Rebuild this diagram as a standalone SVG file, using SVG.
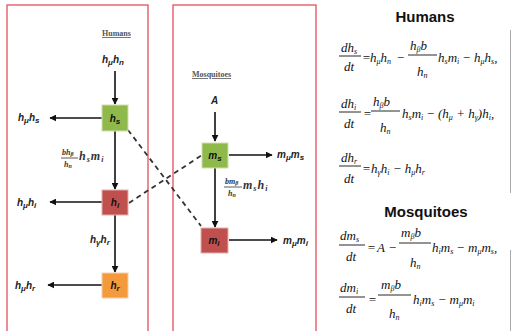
<svg xmlns="http://www.w3.org/2000/svg" width="512" height="331" viewBox="0 0 512 331">
<defs>
<marker id="ah" viewBox="0 0 10 10" refX="9" refY="5" markerWidth="7" markerHeight="7" markerUnits="userSpaceOnUse" orient="auto">
<path d="M0,0 L10,5 L0,10 z" fill="#111"/>
</marker>
<style>
.frame{fill:none;stroke:#e2505c;stroke-width:1.3}
.arr{stroke:#111;stroke-width:1.6;fill:none;marker-end:url(#ah)}
.dash{stroke:#333;stroke-width:1.8;stroke-dasharray:5,4;fill:none}
.lab{font-family:"Liberation Sans",Arial,sans-serif;font-style:italic;font-weight:bold;font-size:10px;fill:#222}
.nl{font-family:"Liberation Sans",Arial,sans-serif;font-style:italic;font-weight:bold;font-size:10px;fill:#111;text-anchor:middle}
.fr{font-family:"Liberation Serif","Times New Roman",serif;font-style:italic;font-weight:bold;fill:#333}
.ttl{font-family:"Liberation Serif","Times New Roman",serif;font-weight:bold;font-size:8px;fill:#555;text-decoration:underline}
.m{font-family:"Liberation Serif","Times New Roman",serif;font-style:italic;font-size:13px;fill:#111}
.s{font-size:8px}
.big{font-family:"Liberation Sans",Arial,sans-serif;font-weight:bold;font-size:15px;fill:#111;text-anchor:middle}
.fl{stroke:#111;stroke-width:0.9}
</style>
</defs>
<rect width="512" height="331" fill="#fff"/>
<rect class="frame" x="7" y="5" width="141" height="340"/>
<rect class="frame" x="173" y="5" width="143" height="340"/>

<g id="connectors">
<line class="arr" x1="115" y1="71" x2="115" y2="104"/>
<line class="arr" x1="102" y1="118" x2="50" y2="118"/>
<line class="arr" x1="115" y1="131" x2="115" y2="189"/>
<line class="arr" x1="102" y1="202" x2="50" y2="202"/>
<line class="arr" x1="115" y1="215" x2="115" y2="272"/>
<line class="arr" x1="102" y1="285" x2="48" y2="285"/>
<line class="arr" x1="215" y1="112" x2="215" y2="141"/>
<line class="arr" x1="229" y1="155" x2="272" y2="155"/>
<line class="arr" x1="215" y1="168" x2="215" y2="227"/>
<line class="arr" x1="229" y1="240" x2="277" y2="240"/>
<line class="dash" x1="128" y1="130" x2="201" y2="226"/>
<line class="dash" x1="129" y1="203" x2="202" y2="155"/>
</g>

<g id="title-humans"><text class="ttl" x="102" y="36">Humans</text></g>
<g id="title-mosq"><text class="ttl" x="192" y="77">Mosquitoes</text></g>

<g id="in-h"><text class="lab" x="102" y="63">h<tspan class="s" dy="2">μ</tspan><tspan dy="-2">h</tspan><tspan class="s" dy="2">n</tspan></text></g>
<g id="in-m"><text class="lab" x="211" y="104">A</text></g>

<g id="hs">
<rect x="102" y="105" width="26" height="26" fill="#8fb94b" stroke="#cfe0b0" stroke-width="1"/>
<text class="nl" x="115" y="122">h<tspan class="s" dy="2">s</tspan></text>
</g>
<g id="hi">
<rect x="102" y="190" width="26" height="25" fill="#c0504d" stroke="#e2b0ae" stroke-width="1"/>
<text class="nl" x="115" y="206">h<tspan class="s" dy="2">i</tspan></text>
</g>
<g id="hr">
<rect x="102" y="273" width="26" height="25" fill="#f39a3c" stroke="#f6d0a8" stroke-width="1"/>
<text class="nl" x="115" y="289">h<tspan class="s" dy="2">r</tspan></text>
</g>
<g id="ms">
<rect x="202" y="143" width="26" height="25" fill="#8fb94b" stroke="#cfe0b0" stroke-width="1"/>
<text class="nl" x="215" y="159">m<tspan class="s" dy="2">s</tspan></text>
</g>
<g id="mi">
<rect x="201" y="228" width="27" height="25" fill="#c0504d" stroke="#e2b0ae" stroke-width="1"/>
<text class="nl" x="214" y="244">m<tspan class="s" dy="2">i</tspan></text>
</g>

<g id="out-labels">
<text class="lab" x="18" y="121">h<tspan class="s" dy="2">μ</tspan><tspan dy="-2">h</tspan><tspan class="s" dy="2">s</tspan></text>
<text class="lab" x="17" y="206">h<tspan class="s" dy="2">μ</tspan><tspan dy="-2">h</tspan><tspan class="s" dy="2">i</tspan></text>
<text class="lab" x="15" y="289">h<tspan class="s" dy="2">μ</tspan><tspan dy="-2">h</tspan><tspan class="s" dy="2">r</tspan></text>
<text class="lab" x="90" y="243">h<tspan class="s" dy="2">γ</tspan><tspan dy="-2">h</tspan><tspan class="s" dy="2">r</tspan></text>
<text class="lab" x="277" y="158">m<tspan class="s" dy="2">μ</tspan><tspan dy="-2">m</tspan><tspan class="s" dy="2">s</tspan></text>
<text class="lab" x="283" y="244">m<tspan class="s" dy="2">μ</tspan><tspan dy="-2">m</tspan><tspan class="s" dy="2">i</tspan></text>
</g>

<g id="rate-hs-hi">
<text class="fr" x="62" y="155" font-size="8">bh<tspan font-size="6" dy="1">β</tspan></text>
<line x1="61" y1="158" x2="78" y2="158" stroke="#333" stroke-width="0.8"/>
<text class="fr" x="64" y="167" font-size="8">h<tspan font-size="6" dy="1">n</tspan></text>
<text class="fr" x="79" y="160" font-size="12" letter-spacing="1">h<tspan font-size="8" dy="2">s</tspan><tspan dy="-2">m</tspan><tspan font-size="8" dy="2">i</tspan></text>
</g>
<g id="rate-ms-mi">
<text class="fr" x="225" y="184" font-size="8">bm<tspan font-size="6" dy="1">β</tspan></text>
<line x1="224" y1="187" x2="242" y2="187" stroke="#333" stroke-width="0.8"/>
<text class="fr" x="228" y="196" font-size="8">h<tspan font-size="6" dy="1">n</tspan></text>
<text class="fr" x="243" y="189" font-size="12" letter-spacing="1">m<tspan font-size="8" dy="2">s</tspan><tspan dy="-2">h</tspan><tspan font-size="8" dy="2">i</tspan></text>
</g>

<g id="equations">
<text class="big" x="425" y="22">Humans</text>
<!-- eq1 -->
<text class="m" x="341" y="52">dh<tspan class="s" dy="2">s</tspan></text>
<line class="fl" x1="339" y1="56" x2="361" y2="56"/>
<text class="m" x="344" y="71">dt</text>
<text class="m" x="362" y="62">=</text>
<text class="m" x="370" y="62">h<tspan class="s" dy="2">μ</tspan><tspan dy="-2">h</tspan><tspan class="s" dy="2">n</tspan></text>
<text class="m" x="396" y="62">−</text>
<text class="m" x="410" y="50">h<tspan class="s" dy="2">β</tspan><tspan dy="-2">b</tspan></text>
<line class="fl" x1="408" y1="55" x2="437" y2="55"/>
<text class="m" x="417" y="76">h<tspan class="s" dy="2">n</tspan></text>
<text class="m" x="438" y="62">h<tspan class="s" dy="2">s</tspan><tspan dy="-2">m</tspan><tspan class="s" dy="2">i</tspan></text>
<text class="m" x="462" y="62">− h<tspan class="s" dy="2">μ</tspan><tspan dy="-2">h</tspan><tspan class="s" dy="2">s</tspan><tspan dy="-2">,</tspan></text>
<!-- eq2 -->
<text class="m" x="341" y="108">dh<tspan class="s" dy="2">i</tspan></text>
<line class="fl" x1="339" y1="112" x2="361" y2="112"/>
<text class="m" x="344" y="128">dt</text>
<text class="m" x="363" y="118">=</text>
<text class="m" x="373" y="106">h<tspan class="s" dy="2">β</tspan><tspan dy="-2">b</tspan></text>
<line class="fl" x1="371" y1="111" x2="400" y2="111"/>
<text class="m" x="380" y="132">h<tspan class="s" dy="2">n</tspan></text>
<text class="m" x="402" y="118">h<tspan class="s" dy="2">s</tspan><tspan dy="-2">m</tspan><tspan class="s" dy="2">i</tspan></text>
<text class="m" x="426" y="118">− (h<tspan class="s" dy="2">μ</tspan><tspan dy="-2"> + h</tspan><tspan class="s" dy="2">γ</tspan><tspan dy="-2">)h</tspan><tspan class="s" dy="2">i</tspan><tspan dy="-2">,</tspan></text>
<!-- eq3 -->
<text class="m" x="341" y="162">dh<tspan class="s" dy="2">r</tspan></text>
<line class="fl" x1="339" y1="166" x2="361" y2="166"/>
<text class="m" x="344" y="183">dt</text>
<text class="m" x="362" y="173">=</text>
<text class="m" x="371" y="173">h<tspan class="s" dy="2">γ</tspan><tspan dy="-2">h</tspan><tspan class="s" dy="2">i</tspan><tspan dy="-2"> − h</tspan><tspan class="s" dy="2">μ</tspan><tspan dy="-2">h</tspan><tspan class="s" dy="2">r</tspan></text>

<text class="big" x="426" y="217">Mosquitoes</text>
<!-- eq4 -->
<text class="m" x="340" y="240">dm<tspan class="s" dy="2">s</tspan></text>
<line class="fl" x1="339" y1="245" x2="365" y2="245"/>
<text class="m" x="346" y="261">dt</text>
<text class="m" x="367" y="252">=</text>
<text class="m" x="377" y="252">A −</text>
<text class="m" x="401" y="237">m<tspan class="s" dy="2">β</tspan><tspan dy="-2">b</tspan></text>
<line class="fl" x1="399" y1="243" x2="431" y2="243"/>
<text class="m" x="410" y="267">h<tspan class="s" dy="2">n</tspan></text>
<text class="m" x="432" y="252">h<tspan class="s" dy="2">i</tspan><tspan dy="-2">m</tspan><tspan class="s" dy="2">s</tspan></text>
<text class="m" x="456" y="252">− m<tspan class="s" dy="2">μ</tspan><tspan dy="-2">m</tspan><tspan class="s" dy="2">s</tspan><tspan dy="-2">,</tspan></text>
<!-- eq5 -->
<text class="m" x="340" y="292">dm<tspan class="s" dy="2">i</tspan></text>
<line class="fl" x1="339" y1="297" x2="365" y2="297"/>
<text class="m" x="346" y="313">dt</text>
<text class="m" x="368" y="304">=</text>
<text class="m" x="381" y="289">m<tspan class="s" dy="2">β</tspan><tspan dy="-2">b</tspan></text>
<line class="fl" x1="378" y1="295" x2="411" y2="295"/>
<text class="m" x="389" y="318">h<tspan class="s" dy="2">n</tspan></text>
<text class="m" x="413" y="304">h<tspan class="s" dy="2">i</tspan><tspan dy="-2">m</tspan><tspan class="s" dy="2">s</tspan><tspan dy="-2"> − m</tspan><tspan class="s" dy="2">μ</tspan><tspan dy="-2">m</tspan><tspan class="s" dy="2">i</tspan></text>
<line x1="510.5" y1="30" x2="510.5" y2="193" stroke="#aaa" stroke-width="1"/>
<line x1="510.5" y1="250" x2="510.5" y2="331" stroke="#aaa" stroke-width="1"/>
</g>
</svg>
